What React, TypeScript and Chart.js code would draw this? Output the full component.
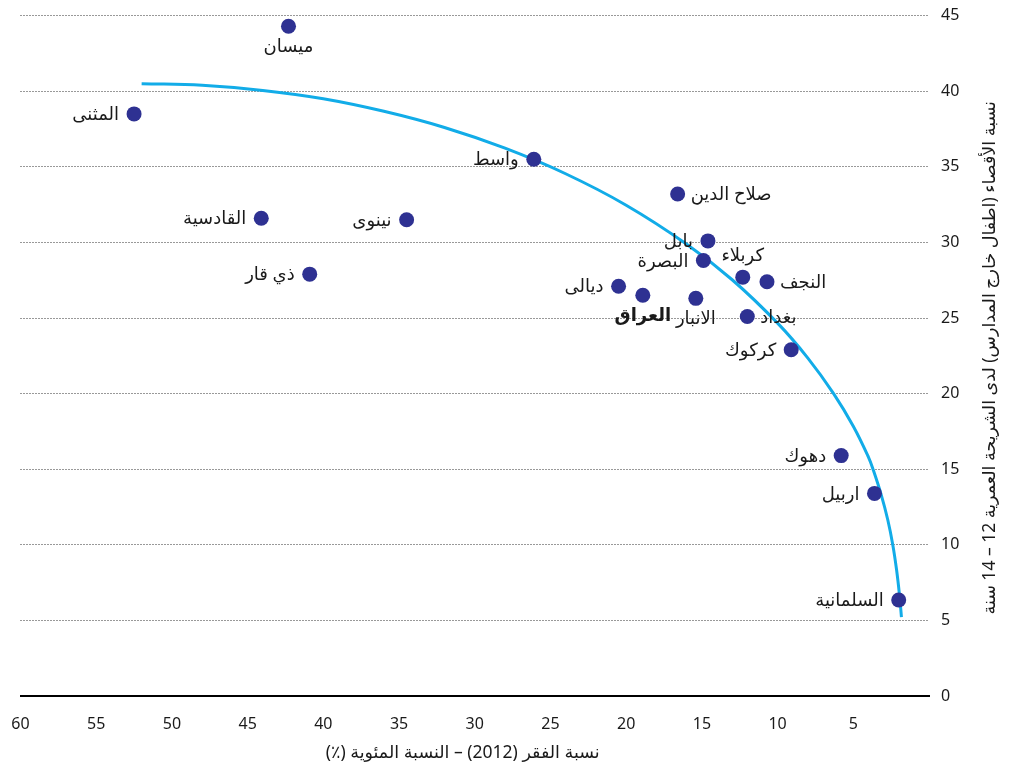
import React, { useEffect, useRef } from "react";
import { Chart, registerables } from "chart.js";

Chart.register(...registerables);

// Governorates (Arabic labels)
const regions = [
  "ميسان",
  "المثنى",
  "واسط",
  "صلاح الدين",
  "القادسية",
  "نينوى",
  "بابل",
  "البصرة",
  "كربلاء",
  "النجف",
  "ذي قار",
  "ديالى",
  "العراق",
  "الانبار",
  "بغداد",
  "كركوك",
  "دهوك",
  "اربيل",
  "السلمانية",
];

// Poverty rate 2012 (%)
const povertyRate = [42.3, 52.5, 26.1, 16.6, 44.1, 34.5, 14.6, 14.9, 12.3, 10.7, 40.9, 20.5, 18.9, 15.4, 12.0, 9.1, 5.8, 3.6, 2.0];

// Out-of-school rate, age 12-14 (%)
const exclusionRate = [44.3, 38.5, 35.5, 33.2, 31.6, 31.5, 30.1, 28.8, 27.7, 27.4, 27.9, 27.1, 26.5, 26.3, 25.1, 22.9, 15.9, 13.4, 6.35];

// Label side relative to the dot: L = left, R = right, B = below, T = above
const labelSide = ["B", "L", "L", "R", "L", "L", "L", "L", "T", "R", "L", "L", "B", "B", "R", "L", "L", "L", "L"];

// Trend curve
const curvePoverty = [52, 48, 44, 40, 36, 32, 28, 24, 20, 16, 13, 10, 8, 6.3, 5, 4, 3.68, 3.15, 2.72, 2.39, 2.14, 1.95, 1.82];
const curveExclusion = [40.5, 40.39, 40.05, 39.5, 38.67, 37.6, 36.23, 34.54, 32.46, 29.88, 27.53, 24.66, 22.35, 20.0, 17.84, 15.8, 14.95, 13.29, 11.64, 9.99, 8.33, 6.68, 5.22];

const xAxisTitle = "نسبة الفقر (2012) – النسبة المئوية (٪)";
const yAxisTitle = "نسبة الأقصاء (اطفال خارج المدارس) لدى الشريحة العمرية 12 – 14 سنة";

const FONT = '"Noto Sans", "DejaVu Sans", sans-serif';

export default function App() {
  const ref = useRef<HTMLCanvasElement>(null);

  useEffect(() => {
    if (!ref.current) return;

    const pointLabels = {
      id: "pointLabels",
      afterDatasetsDraw(chart: any) {
        const meta = chart.getDatasetMeta(0);
        const ctx = chart.ctx as CanvasRenderingContext2D;
        ctx.save();
        ctx.fillStyle = "#1a1a1a";
        (ctx as any).direction = "rtl";
        meta.data.forEach((el: any, i: number) => {
          const { x, y } = el.getProps(["x", "y"], true);
          const bold = regions[i] === "العراق";
          ctx.font = `${bold ? "bold " : ""}18px ${FONT}`;
          const side = labelSide[i];
          ctx.textBaseline = "middle";
          if (side === "L") {
            ctx.textAlign = "right";
            ctx.fillText(regions[i], x - 15, y + 1);
          } else if (side === "R") {
            ctx.textAlign = "left";
            ctx.fillText(regions[i], x + 13, y + 1);
          } else if (side === "B") {
            ctx.textAlign = "center";
            ctx.fillText(regions[i], x, y + 21);
          } else {
            ctx.textAlign = "center";
            ctx.fillText(regions[i], x, y - 21);
          }
        });
        ctx.restore();
      },
    };

    const axisTitles = {
      id: "axisTitles",
      afterDraw(chart: any) {
        const ctx = chart.ctx as CanvasRenderingContext2D;
        const area = chart.chartArea;
        ctx.save();
        ctx.fillStyle = "#1a1a1a";
        (ctx as any).direction = "rtl";
        ctx.font = `17.5px ${FONT}`;
        ctx.textAlign = "center";
        ctx.textBaseline = "middle";
        ctx.fillText(xAxisTitle, (area.left + area.right) / 2 - 12, area.bottom + 57);
        ctx.translate(area.right + 61, (area.top + area.bottom) / 2 + 2);
        ctx.rotate(-Math.PI / 2);
        ctx.fillText(yAxisTitle, 0, 0);
        ctx.restore();
      },
    };

    const chart = new Chart(ref.current, {
      type: "scatter",
      data: {
        datasets: [
          {
            label: "governorates",
            data: povertyRate.map((v, i) => ({ x: v, y: exclusionRate[i] })),
            backgroundColor: "#2e3192",
            borderColor: "#2e3192",
            pointRadius: 7.5,
            pointHoverRadius: 7.5,
            borderWidth: 0,
            order: 0,
          },
          {
            label: "curve",
            type: "line",
            data: curvePoverty.map((v, i) => ({ x: v, y: curveExclusion[i] })),
            borderColor: "#12ace8",
            borderWidth: 3,
            pointRadius: 0,
            showLine: true,
            fill: false,
            tension: 0.4,
            order: 1,
          } as any,
        ],
      },
      options: {
        animation: false,
        responsive: false,
        maintainAspectRatio: false,
        events: [],
        layout: { padding: { left: 20.5, top: 15.6, right: 0, bottom: 0 } },
        plugins: {
          legend: { display: false },
          tooltip: { enabled: false },
          title: { display: false },
        },
        scales: {
          x: {
            type: "linear",
            position: "bottom",
            reverse: true,
            min: 0,
            max: 60,
            ticks: {
              stepSize: 5,
              padding: 19,
              color: "#1a1a1a",
              font: { family: FONT, size: 16 },
              callback: (v: any) => (v === 0 ? "" : String(v)),
            },
            grid: { display: false, drawTicks: false },
            border: { display: true, color: "#000", width: 2 },
            afterFit: (scale: any) => {
              scale.height = 76;
              scale.paddingLeft = 0;
              scale.paddingRight = 0;
            },
          },
          y: {
            type: "linear",
            position: "right",
            min: 0,
            max: 45,
            ticks: {
              stepSize: 5,
              padding: 12,
              color: "#1a1a1a",
              font: { family: FONT, size: 16 },
            },
            grid: {
              drawTicks: false,
              lineWidth: 1,
              color: (c: any) => (c.tick && c.tick.value === 0 ? "rgba(0,0,0,0)" : "#333"),
            },
            border: { display: false, dash: [1, 2] },
            afterFit: (scale: any) => {
              scale.width = 81;
              scale.paddingTop = 0;
              scale.paddingBottom = 0;
            },
          } as any,
        },
      },
      plugins: [pointLabels, axisTitles],
    });

    return () => chart.destroy();
  }, []);

  return (
    <div style={{ position: "fixed", left: 0, top: 0, width: 1010, height: 772, background: "#fff" }}>
      <canvas ref={ref} width={1010} height={772} style={{ display: "block" }} />
    </div>
  );
}
